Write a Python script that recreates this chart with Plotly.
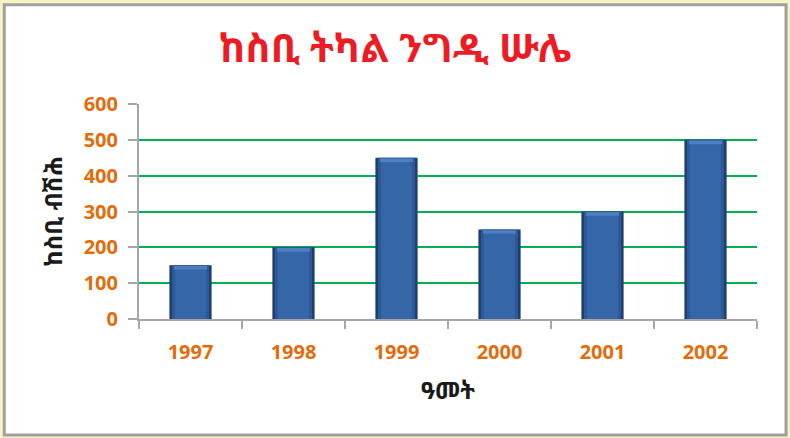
import plotly.graph_objects as go

# Yearly values (thousands)
years = ["1997", "1998", "1999", "2000", "2001", "2002"]
profit = [150, 200, 450, 250, 300, 500]
y_ticks = [0, 100, 200, 300, 400, 500, 600]

title_text = "ከስቢ ትካል ንግዲ ሡሌ"
y_title = "ከስቢ ብሽሕ"
x_title = "ዓመት"

ethi_font = "Noto Sans Ethiopic, Abyssinica SIL, Noto Sans, DejaVu Sans, sans-serif"
tick_font = dict(family="Open Sans, Liberation Sans, sans-serif", size=20, color="#e36c0a", weight="bold")
axis_title_font = dict(family=ethi_font, size=24, color="#1a1a1a", weight="bold")

fig = go.Figure()

# layered bars give a bevelled look: dark rim, lighter face, bright top edge
fig.add_trace(go.Bar(x=years, y=profit, width=0.41, marker=dict(color="#1f3f6e", line=dict(width=0)),
                     hoverinfo="skip", showlegend=False))
fig.add_trace(go.Bar(x=years, y=profit, width=0.36, marker=dict(color="#2c5a96", line=dict(width=0)),
                     showlegend=False))
fig.add_trace(go.Bar(x=years, y=[v - 10 for v in profit], width=0.30, marker=dict(color="#3567a8", line=dict(width=0)),
                     hoverinfo="skip", showlegend=False))
# lighter top bevel strip
fig.add_trace(go.Bar(x=years, y=[10] * len(years), base=[v - 12 for v in profit], width=0.32,
                     marker=dict(color="#4d7fc2", line=dict(width=0)), hoverinfo="skip", showlegend=False))

fig.update_layout(
    width=790, height=438,
    margin=dict(l=139, r=33, t=104, b=119),
    paper_bgcolor="#f4f4c4",
    plot_bgcolor="#edf0e0",
    barmode="overlay",
    bargap=0.6,
    title=dict(text=title_text, x=0.5, xref="container", xanchor="center", y=0.89, yanchor="middle",
               font=dict(family=ethi_font, size=39, color="#ed1c24", weight="bold")),
    xaxis=dict(
        showgrid=False, showline=True, linecolor="#a6a6a6", linewidth=2,
        ticks="outside", tickson="boundaries", ticklen=8, tickcolor="#a6a6a6", tickwidth=2,
        tickfont=tick_font, ticklabelstandoff=14,
        title=dict(text=x_title, font=axis_title_font, standoff=18),
    ),
    yaxis=dict(
        range=[0, 600], tickvals=y_ticks, showgrid=True, gridcolor="#00b050", gridwidth=2,
        zeroline=False, showline=True, linecolor="#a6a6a6", linewidth=2,
        ticks="outside", ticklen=9, tickcolor="#a6a6a6", tickwidth=2,
        tickfont=tick_font, ticklabelstandoff=6,
        title=dict(text=y_title, font=axis_title_font, standoff=14),
    ),
    shapes=[dict(type="rect", xref="paper", yref="paper", layer="below",
                 x0=-0.218, x1=1.047, y0=-0.54, y1=1.462,
                 fillcolor="white", line=dict(color="#a0a0a0", width=3))],
    font=dict(family="Open Sans, sans-serif"),
)

fig.write_html("out.html")
